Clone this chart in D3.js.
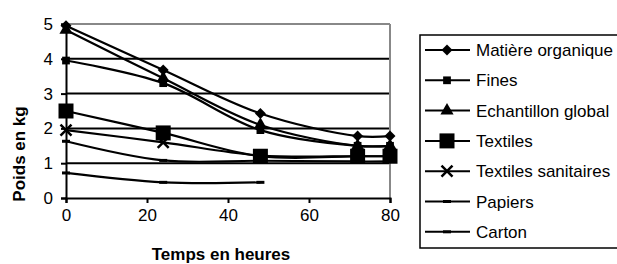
<!DOCTYPE html>
<html>
<head>
<meta charset="utf-8">
<script src="https://cdn.jsdelivr.net/npm/d3@7"></script>
<style>
  body { margin: 0; background: #fff; }
  text { font-family: "Liberation Sans", Arial, sans-serif; fill: #000; }
</style>
</head>
<body>
<div id="chart"></div>
<script>
// data
var hours = [0, 24, 48, 72, 80];
var matiereOrganique = [4.95, 3.68, 2.43, 1.78, 1.78];
var fines = [3.95, 3.3, 1.95, 1.5, 1.5];
var echantillonGlobal = [4.83, 3.44, 2.1, 1.5, 1.5];
var textiles = [2.5, 1.87, 1.2, 1.2, 1.2];
var textilesSanitaires = [1.95, 1.6, 1.22, 1.2, 1.2];
var papiers = [1.63, 1.08, 1.07, 1.05, 1.05];
var carton = [0.72, 0.45, 0.45];

var seriesNames = ["Matière organique", "Fines", "Echantillon global", "Textiles",
                   "Textiles sanitaires", "Papiers", "Carton"];
var seriesValues = [matiereOrganique, fines, echantillonGlobal, textiles,
                    textilesSanitaires, papiers, carton];
var markerKinds = ["diamond", "square", "triangle", "bigsquare", "cross", "dash", "dash"];

var xTicks = [0, 20, 40, 60, 80];
var yTicks = [0, 1, 2, 3, 4, 5];

var width = 617, height = 264;
var plot = {left: 66, right: 390, top: 24, bottom: 198};

var svg = d3.select("#chart")
  .append("svg")
    .attr("width", width)
    .attr("height", height);

var x = d3.scaleLinear().domain([0, 80]).range([plot.left, plot.right]);
var y = d3.scaleLinear().domain([0, 5]).range([plot.bottom, plot.top]);

// gridlines
svg.append("g")
  .selectAll("line")
  .data(yTicks.filter(function(d) { return d > 0; }))
  .enter()
  .append("line")
    .attr("x1", plot.left).attr("x2", plot.right)
    .attr("y1", function(d) { return y(d); })
    .attr("y2", function(d) { return y(d); })
    .attr("stroke", function(d) { return d === 5 ? "#888" : "#000"; })
    .attr("stroke-width", 2);

// right border of plot area
svg.append("line")
  .attr("x1", plot.right).attr("x2", plot.right)
  .attr("y1", plot.top).attr("y2", plot.bottom)
  .attr("stroke", "#888").attr("stroke-width", 2);

// axes
var xAxis = svg.append("g")
  .attr("transform", "translate(0," + plot.bottom + ")")
  .call(d3.axisBottom(x).tickValues(xTicks).tickSize(5).tickPadding(6)
    .tickFormat(d3.format("d")));
var yAxis = svg.append("g")
  .attr("transform", "translate(" + plot.left + ",0)")
  .call(d3.axisLeft(y).tickValues(yTicks).tickSize(5).tickPadding(8)
    .tickFormat(d3.format("d")));

[xAxis, yAxis].forEach(function(a) {
  a.select(".domain").attr("stroke", "#000").attr("stroke-width", 2);
  a.selectAll(".tick line").attr("stroke", "#000").attr("stroke-width", 2);
  a.selectAll(".tick text")
    .style("font-family", "'Liberation Sans', Arial, sans-serif")
    .style("font-size", "17px")
    .attr("fill", "#000");
});

// marker drawing
function drawMarker(g, kind) {
  if (kind === "diamond") {
    g.append("path").attr("d", d3.symbol(d3.symbolSquare, 60)())
      .attr("transform", "rotate(45)").attr("fill", "#000");
  } else if (kind === "square") {
    g.append("path").attr("d", d3.symbol(d3.symbolSquare, 60)()).attr("fill", "#000");
  } else if (kind === "triangle") {
    g.append("path").attr("d", d3.symbol(d3.symbolTriangle, 75)()).attr("fill", "#000");
  } else if (kind === "bigsquare") {
    g.append("path").attr("d", d3.symbol(d3.symbolSquare, 225)()).attr("fill", "#000");
  } else if (kind === "cross") {
    g.append("path").attr("d", "M-5.5,-5.5L5.5,5.5M-5.5,5.5L5.5,-5.5")
      .attr("stroke", "#000").attr("stroke-width", 2.5).attr("fill", "none");
  } else if (kind === "dash") {
    g.append("rect").attr("x", -4).attr("y", -1.5).attr("width", 8).attr("height", 3)
      .attr("fill", "#000");
  }
}

var line = d3.line()
  .x(function(d) { return x(d.t); })
  .y(function(d) { return y(d.v); })
  .curve(d3.curveCatmullRom.alpha(0.5));

var series = seriesNames.map(function(name, i) {
  return {
    name: name,
    kind: markerKinds[i],
    points: seriesValues[i].map(function(v, j) { return {t: hours[j], v: v}; })
  };
});

// lines first, then markers on top
svg.append("g")
  .selectAll("path")
  .data(series)
  .enter()
  .append("path")
    .attr("d", function(d) { return line(d.points); })
    .attr("fill", "none")
    .attr("stroke", "#000")
    .attr("stroke-width", 2.2);

series.forEach(function(s) {
  s.points.forEach(function(p) {
    var g = svg.append("g")
      .attr("transform", "translate(" + x(p.t) + "," + y(p.v) + ")");
    drawMarker(g, s.kind);
  });
});

// axis titles
svg.append("text")
  .attr("x", 221)
  .attr("y", 260)
  .attr("text-anchor", "middle")
  .style("font-size", "17px")
  .style("font-weight", "bold")
  .text("Temps en heures");

svg.append("text")
  .attr("transform", "translate(25,154) rotate(-90)")
  .attr("text-anchor", "middle")
  .style("font-size", "17px")
  .style("font-weight", "bold")
  .text("Poids en kg");

// legend
var legend = svg.append("g");
legend.append("rect")
  .attr("x", 420).attr("y", 35)
  .attr("width", 210).attr("height", 213)
  .attr("fill", "#fff")
  .attr("stroke", "#000")
  .attr("stroke-width", 1.5);

var rows = legend.selectAll("g.row")
  .data(series)
  .enter()
  .append("g")
    .attr("class", "row")
    .attr("transform", function(d, i) { return "translate(0," + (50 + i * 30.3) + ")"; });

rows.append("line")
  .attr("x1", 425).attr("x2", 470)
  .attr("y1", 0).attr("y2", 0)
  .attr("stroke", "#000").attr("stroke-width", 2);

rows.each(function(d) {
  drawMarker(d3.select(this).append("g").attr("transform", "translate(447,0)"), d.kind);
});

rows.append("text")
  .attr("x", 476)
  .attr("y", 6)
  .style("font-size", "17px")
  .text(function(d) { return d.name; });
</script>
</body>
</html>
